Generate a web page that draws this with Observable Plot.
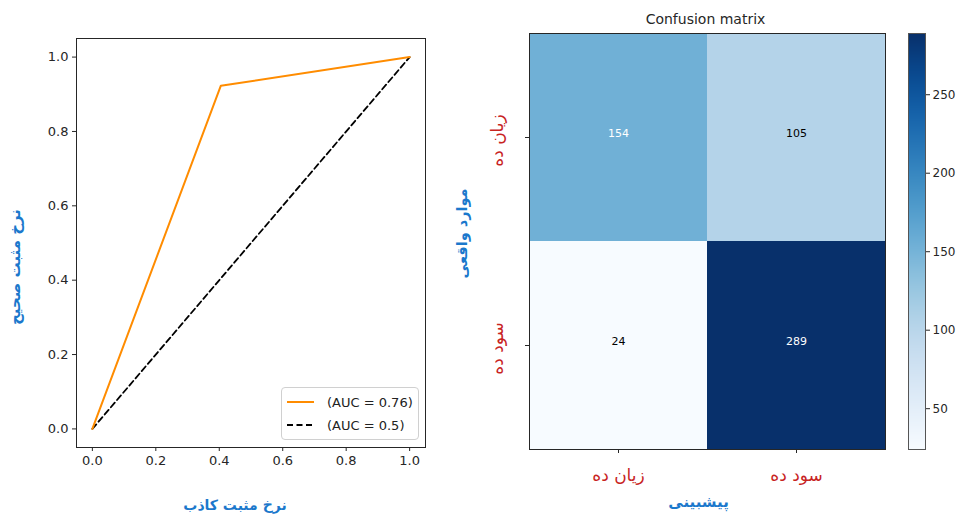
<!DOCTYPE html>
<html>
<head>
<meta charset="utf-8">
<script src="https://cdn.jsdelivr.net/npm/d3@7"></script>
<script src="https://cdn.jsdelivr.net/npm/@observablehq/plot@0.6"></script>
<style>
  html, body { margin: 0; padding: 0; background: #fff; }
  #root { position: relative; width: 957px; height: 518px; overflow: hidden; font-family: "DejaVu Sans", sans-serif; }
  .panel { position: absolute; top: 0; }
  #legend { position: absolute; left: 281px; top: 387px; width: 136px; height: 51px; border: 1px solid #d0d0d0; border-radius: 4px; background: rgba(255,255,255,0.8); font: 13px "DejaVu Sans", sans-serif; color: #222; }
  #legend .row { position: absolute; left: 4px; height: 20px; display: flex; align-items: center; }
  #legend svg { margin-right: 13px; }
</style>
</head>
<body>
<div id="root"></div>
<script>
// ---- data ----
const rocFpr = [0, 0.405, 1];
const rocTpr = [0, 0.923, 1];
const chanceFpr = [0, 1];
const chanceTpr = [0, 1];
const legendLabels = ["(AUC = 0.76)", "(AUC = 0.5)"];
const rocTicks = [0, 0.2, 0.4, 0.6, 0.8, 1.0];

const actualLabels = ["زیان ده", "سود ده"];
const predictedLabels = ["زیان ده", "سود ده"];
const matrixValues = [[154, 105], [24, 289]];
const colorbarTicks = [50, 100, 150, 200, 250];

const blueText = "#1b78cc";
const redText = "#c8241f";
const inkColor = "#262626";

// ---- derived tables ----
const roc = rocFpr.map((f, i) => ({fpr: f, tpr: rocTpr[i]}));
const chance = chanceFpr.map((f, i) => ({fpr: f, tpr: chanceTpr[i]}));
const cells = [];
actualLabels.forEach((a, i) => predictedLabels.forEach((p, j) => cells.push({actual: a, predicted: p, value: matrixValues[i][j]})));
const allValues = matrixValues.flat();
const vmin = d3.min(allValues), vmax = d3.max(allValues);
const thresh = vmax / 2;

const root = document.getElementById("root");
const baseStyle = {fontFamily: "DejaVu Sans, sans-serif", fontSize: "13px", color: inkColor, background: "#fff", overflow: "visible"};

// ---- ROC panel ----
const rocPlot = Plot.plot({
  width: 440, height: 518,
  marginLeft: 76, marginRight: 15, marginTop: 38, marginBottom: 71,
  style: baseStyle,
  x: {domain: [-0.05, 1.05]},
  y: {domain: [-0.05, 1.05]},
  marks: [
    Plot.frame({stroke: inkColor}),
    Plot.axisX({ticks: rocTicks, tickFormat: d3.format(".1f"), tickSize: 4, tickPadding: 4, fontSize: 13, label: null}),
    Plot.axisY({ticks: rocTicks, tickFormat: d3.format(".1f"), tickSize: 4, tickPadding: 4, fontSize: 13, label: null}),
    Plot.line(chance, {x: "fpr", y: "tpr", stroke: "black", strokeWidth: 1.8, strokeDasharray: "6,3.5"}),
    Plot.line(roc, {x: "fpr", y: "tpr", stroke: "#ff8c00", strokeWidth: 2}),
    Plot.text(["نرخ مثبت کاذب"], {frameAnchor: "bottom", dx: -16, dy: 58, lineAnchor: "middle", textAnchor: "middle", fill: blueText, fontSize: 14, fontWeight: "bold"}),
    Plot.text(["نرخ مثبت صحیح"], {frameAnchor: "left", dx: -61, dy: 24, rotate: -90, lineAnchor: "middle", textAnchor: "middle", fill: blueText, fontSize: 15, fontWeight: "bold"})
  ]
});
rocPlot.classList.add("panel");
rocPlot.style.left = "0px";
root.appendChild(rocPlot);

// legend (HTML)
const legend = document.createElement("div");
legend.id = "legend";
const legendStyles = [{stroke: "#ff8c00", dash: null}, {stroke: "black", dash: "6,3.5"}];
legendLabels.forEach((lab, i) => {
  const row = document.createElement("div");
  row.className = "row";
  row.style.top = (4 + i * 23) + "px";
  const sw = d3.create("svg").attr("width", 28).attr("height", 10);
  sw.append("line").attr("x1", 1).attr("x2", 28).attr("y1", 5).attr("y2", 5)
    .attr("stroke", legendStyles[i].stroke).attr("stroke-width", i ? 1.8 : 2)
    .attr("stroke-dasharray", legendStyles[i].dash);
  row.appendChild(sw.node());
  const t = document.createElement("span");
  t.textContent = lab;
  row.appendChild(t);
  legend.appendChild(row);
});
root.appendChild(legend);

// ---- Confusion matrix panel ----
const colorScale = {type: "linear", scheme: "blues", domain: [vmin, vmax]};
const cmPlot = Plot.plot({
  width: 460, height: 518,
  marginLeft: 89, marginRight: 15, marginTop: 33, marginBottom: 69,
  style: baseStyle,
  x: {domain: predictedLabels, padding: 0},
  y: {domain: actualLabels, padding: 0},
  color: colorScale,
  marks: [
    Plot.cell(cells, {x: "predicted", y: "actual", fill: "value", inset: 0}),
    Plot.text(cells.filter(d => d.value > thresh), {x: "predicted", y: "actual", dy: -4, text: d => String(d.value), fill: "white", fontSize: 11}),
    Plot.text(cells.filter(d => d.value <= thresh), {x: "predicted", y: "actual", dy: -4, text: d => String(d.value), fill: "black", fontSize: 11}),
    Plot.frame({stroke: inkColor}),
    Plot.axisX({tickSize: 4, tickFormat: () => "", label: null}),
    Plot.axisY({tickSize: 4, tickFormat: () => "", label: null}),
    Plot.text(predictedLabels, {x: d => d, frameAnchor: "bottom", dy: 26, lineAnchor: "middle", textAnchor: "middle", fill: redText, fontSize: 17}),
    Plot.text(actualLabels, {y: d => d, frameAnchor: "left", dx: -32, dy: 3, rotate: -90, lineAnchor: "middle", textAnchor: "middle", fill: redText, fontSize: 17}),
    Plot.text(["Confusion matrix"], {frameAnchor: "top", dx: -2, dy: -14, lineAnchor: "middle", textAnchor: "middle", fill: inkColor, fontSize: 14}),
    Plot.text(["پیشبینی"], {frameAnchor: "bottom", dx: -9, dy: 53, lineAnchor: "middle", textAnchor: "middle", fill: blueText, fontSize: 15, fontWeight: "bold"}),
    Plot.text(["موارد واقعی"], {frameAnchor: "left", dx: -67, dy: -8, rotate: -90, lineAnchor: "middle", textAnchor: "middle", fill: blueText, fontSize: 14.5, fontWeight: "bold"})
  ]
});
cmPlot.classList.add("panel");
cmPlot.style.left = "440px";
root.appendChild(cmPlot);

// ---- Colorbar ----
const cbPlot = Plot.plot({
  width: 57, height: 518,
  marginLeft: 8, marginRight: 32, marginTop: 33, marginBottom: 69,
  style: baseStyle,
  x: {domain: [0, 1], axis: null},
  y: {domain: [vmin, vmax]},
  color: colorScale,
  marks: [
    Plot.raster({x1: 0, x2: 1, y1: vmin, y2: vmax, fill: (x, y) => y, pixelSize: 1}),
    Plot.frame({stroke: "#555"}),
    Plot.axisY({anchor: "right", ticks: colorbarTicks, tickSize: 4, tickPadding: 3, fontSize: 12, label: null})
  ]
});
cbPlot.classList.add("panel");
cbPlot.style.left = "900px";
root.appendChild(cbPlot);
</script>
</body>
</html>
